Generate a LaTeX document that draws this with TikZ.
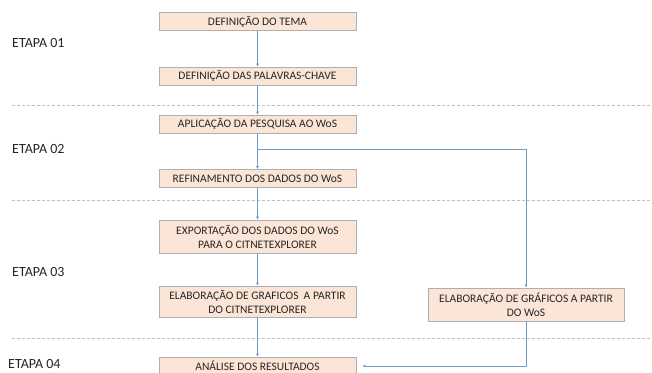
\documentclass[tikz,border=0pt]{standalone}
\usepackage{fontspec}
\setmainfont{Carlito}
\usetikzlibrary{arrows.meta}
\definecolor{boxfill}{HTML}{FBE5D6}
\definecolor{boxdraw}{HTML}{AFAFAF}
\definecolor{conn}{HTML}{6F9BC8}
\definecolor{txt}{HTML}{262626}
\definecolor{sep}{HTML}{BFBFBF}
\tikzset{
  stepbox/.style={draw=boxdraw, fill=boxfill, line width=0.8pt, rectangle, minimum width=197pt, minimum height=18pt, inner sep=1pt, align=center, text=txt, font=\fontsize{11.5}{14}\selectfont},
  flow/.style={draw=conn, line width=0.8pt, -{Latex[length=3pt,width=3pt]}},
  sepline/.style={draw=sep, line width=0.7pt, dash pattern=on 3pt off 2pt},
  etapa/.style={anchor=west, text=txt, font=\fontsize{14}{16}\selectfont, inner sep=0pt}
}
\begin{document}
\begin{tikzpicture}[x=1pt,y=-1pt]
\useasboundingbox (0,0) rectangle (652,372);
\fill[white] (0,0) rectangle (652,372);
% separators
\draw[sepline] (12,105) -- (652,105);
\draw[sepline] (12,200) -- (652,200);
\draw[sepline] (12,338) -- (652,338);
% labels
\node[etapa] (e1) at (12,43) {ETAPA 01};
\node[etapa] (e2) at (12,149) {ETAPA 02};
\node[etapa] (e3) at (12,272) {ETAPA 03};
\node[etapa] (e4) at (8,364) {ETAPA 04};
% boxes
\node[stepbox] (b1) at (257.5,21.5) {DEFINIÇÃO DO TEMA};
\node[stepbox] (b2) at (257.5,76) {DEFINIÇÃO DAS PALAVRAS-CHAVE};
\node[stepbox] (b3) at (257.5,124) {APLICAÇÃO DA PESQUISA AO WoS};
\node[stepbox] (b4) at (257.5,178.5) {REFINAMENTO DOS DADOS DO WoS};
\node[stepbox, minimum height=33pt] (b5) at (257.5,236.5) {EXPORTAÇÃO DOS DADOS DO WoS\\PARA O CITNETEXPLORER};
\node[stepbox, minimum height=31pt] (b6) at (257.5,301.5) {ELABORAÇÃO DE GRAFICOS \ A PARTIR\\DO CITNETEXPLORER};
\node[stepbox] (b7) at (257.5,366) {ANÁLISE DOS RESULTADOS};
\node[stepbox, minimum width=196pt, minimum height=33pt] (b8) at (526,304.5) {ELABORAÇÃO DE GRÁFICOS A PARTIR\\DO WoS};
\coordinate (br) at (257.5,149);
% connectors
\draw[flow] (b1) -- (b2);
\draw[flow] (b2) -- (b3);
\draw[flow] (b3) -- (b4);
\draw[flow] (br) -| (b8.north);
\draw[flow] (b4) -- (b5);
\draw[flow] (b5) -- (b6);
\draw[flow] (b6) -- (b7);
\draw[flow, shorten >=6pt] (b8.south) |- (b7.east);
\end{tikzpicture}
\end{document}
